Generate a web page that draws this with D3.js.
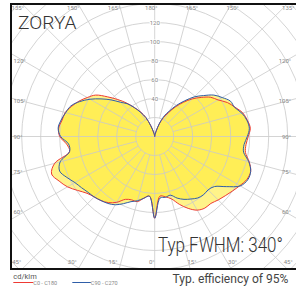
<!DOCTYPE html>
<html><head><meta charset="utf-8">
<script src="https://cdn.jsdelivr.net/npm/d3@7/dist/d3.min.js"></script>
<style>body{margin:0;background:#fff}svg{display:block}</style>
</head><body>
<svg id="chart" width="296" height="289"></svg>
<script>
// ---- data (cd/klm), gamma angle measured from nadir (0°) to zenith (180°), 5° steps
const gammaAngles = d3.range(0, 181, 5);
const c0Values   = [86,63,64.5,68,76,83.5,89.5,92,92,94.5,97,100,103.5,107,107.5,103,97,96.5,98.5,101,99,96,90,84.5,77,72,64,56,47,38,29,22,14,6,2,1,0];
const c180Values = [86,63,66,71,71,73,80,85,88,90,93,99,106,111,115.5,109,91,93,100,101.5,99,97.5,93,88,82,76,65,55,46,37,30,22,12,5,2,1,0];
const c90Values  = [86,65,65,64,69,73,76,79,80,79.5,82,92,104,108,107.5,102.5,95,94.5,97.5,100,98.5,95,89.5,88,82,76,67,59,49,40,31,24,15,6,2,1,0];
const c270Values = [86,63,66,70,73,78,83,86,88,90,91.5,94,97,102,106.5,103,91,91,99,102,100,97,94,87,78.5,69,60,51,45,37,29,22,12,5,2,1,0];
const ringValues = d3.range(20, 241, 20);
const ringLabels = [40, 60, 80, 100, 120];
const spokeAngles = d3.range(0, 360, 15);
const topLabels = [-135, -150, -165, 180, 165, 150, 135];
const sideLabels = [-120, -105, -90, -75, -60, 120, 105, 90, 75, 60];
const bottomLabels = [-45, -30, -15, 0, 15, 30, 45];
const seriesNames = ["C0 - C180", "C90 - C270"];
const seriesColors = ["#ee3a34", "#2f5ea8"];
const titleText = "ZORYA";
const fwhmText = "Typ.FWHM: 340°";
const effText = "Typ. efficiency of 95%";
const unitText = "cd/klm";

// ---- layout
const W = 296, H = 289;
const cx = 154.7, cy = 136.5;
const frame = {x: 11, y: 4, w: 300, h: 265};
const r = d3.scaleLinear().domain([0, 20]).range([0, 19]);
const font = "Roboto, 'Open Sans', sans-serif";

const svg = d3.select("#chart");
svg.append("rect").attr("width", W).attr("height", H).attr("fill", "#fff");
const defs = svg.append("defs");
defs.append("clipPath").attr("id", "clip").append("rect")
  .attr("x", frame.x + 1).attr("y", frame.y + 1).attr("width", frame.w).attr("height", frame.h - 2);

const plot = svg.append("g").attr("clip-path", "url(#clip)");
const g = plot.append("g").attr("transform", `translate(${cx},${cy})`);

// build closed radial loop: right half (a = pi - gamma) then left half (a = pi + gamma)
function loop(rightVals, leftVals) {
  const pts = [];
  for (let i = gammaAngles.length - 1; i >= 0; i--) pts.push([Math.PI - gammaAngles[i] * Math.PI / 180, rightVals[i]]);
  for (let i = 1; i < gammaAngles.length - 1; i++) pts.push([Math.PI + gammaAngles[i] * Math.PI / 180, leftVals[i]]);
  return pts;
}
const line = d3.lineRadial().angle(d => d[0]).radius(d => r(d[1])).curve(d3.curveCatmullRomClosed.alpha(0.5));
const series = [loop(c0Values, c180Values), loop(c90Values, c270Values)];

// fills
g.selectAll("path.fill").data(series).join("path").attr("class", "fill")
  .attr("d", line).attr("fill", "#ffea30").attr("fill-opacity", 0.57).attr("stroke", "none");

// grid
const grid = g.append("g").attr("stroke", "#c9c9c9").attr("stroke-width", 0.8).attr("fill", "none");
grid.selectAll("circle").data(ringValues).join("circle").attr("r", d => r(d));
grid.selectAll("line").data(spokeAngles).join("line")
  .each(function(d) {
    const a = d * Math.PI / 180;
    const r0 = (d % 90 === 0) ? 0 : r(20);
    const r1 = r(260);
    d3.select(this).attr("x1", r0 * Math.sin(a)).attr("y1", r0 * Math.cos(a))
      .attr("x2", r1 * Math.sin(a)).attr("y2", r1 * Math.cos(a));
  });

// curves
g.selectAll("path.curve").data(series).join("path").attr("class", "curve")
  .attr("d", line).attr("fill", "none")
  .attr("stroke", (d, i) => seriesColors[i]).attr("stroke-width", 1);

// ring labels
g.selectAll("text.ring").data(ringLabels).join("text").attr("class", "ring")
  .attr("x", 0).attr("y", d => -r(d)).attr("dy", "0.35em")
  .attr("text-anchor", "middle").attr("font-family", font).attr("font-size", 6)
  .attr("fill", "#888").attr("stroke", "#fff").attr("stroke-width", 1.5).attr("paint-order", "stroke")
  .text(d => d);

// angle labels on frame
const lab = svg.append("g").attr("font-family", font).attr("font-size", 6).attr("fill", "#888");
const topY = frame.y + 1, botY = frame.y + frame.h - 1;
lab.selectAll("text.top").data(topLabels).join("text").attr("class", "top")
  .attr("x", d => {
    const t = Math.abs(d) * Math.PI / 180, s = d < 0 ? -1 : 1;
    const xi = cx + s * (cy - topY) * Math.tan(Math.PI - t);
    return xi + (d === 180 ? -3.5 : d < 0 ? -5.5 : 2);
  })
  .attr("y", 8).attr("dy", "0.35em").attr("text-anchor", "middle").text(d => Math.abs(d) + "°");
lab.selectAll("text.bot").data(bottomLabels).join("text").attr("class", "bot")
  .attr("x", d => {
    const t = Math.abs(d) * Math.PI / 180, s = d < 0 ? -1 : 1;
    const xi = cx + s * (botY - cy) * Math.tan(t);
    return xi + (d === 0 ? -3 : d < 0 ? -6.5 : 2);
  })
  .attr("y", 262).attr("dy", "0.35em").attr("text-anchor", "middle").text(d => Math.abs(d) + "°");
lab.selectAll("text.side").data(sideLabels).join("text").attr("class", "side")
  .attr("x", d => d < 0 ? 13.5 : 291)
  .attr("text-anchor", d => d < 0 ? "start" : "end")
  .attr("y", d => {
    const t = Math.abs(d) * Math.PI / 180;
    return cy + 0.92 * (cx - frame.x - 1) * Math.cos(t) / Math.sin(t);
  })
  .attr("dy", "0.35em").text(d => Math.abs(d) + "°");

// frame
svg.append("rect").attr("x", frame.x).attr("y", frame.y).attr("width", frame.w).attr("height", frame.h)
  .attr("fill", "none").attr("stroke", "#111").attr("stroke-width", 2);

// texts squeezed horizontally to the narrow look of the original face
function fitText(x, y, size, weight, color, targetW, str) {
  const t = svg.append("text").attr("font-family", font).attr("font-weight", weight)
    .attr("font-size", size).attr("fill", color).text(str);
  const w = t.node().getComputedTextLength();
  const k = w > 0 ? targetW / w : 1;
  t.attr("transform", `translate(${x},${y}) scale(${k},1)`);
  return t;
}
fitText(18, 28.5, 18.5, 300, "#333", 58.5, titleText);
fitText(158, 251.8, 20.5, 300, "#333", 125, fwhmText);
fitText(172.5, 283, 13, 400, "#444", 116, effText);

// legend
svg.append("text").attr("x", 13.3).attr("y", 279).attr("font-family", font).attr("font-size", 7.5)
  .attr("fill", "#555").text(unitText);
const leg = svg.append("g").attr("font-family", font).attr("font-size", 5.5).attr("fill", "#888");
const legX = [13.3, 72.3];
seriesNames.forEach((n, i) => {
  leg.append("line").attr("x1", legX[i]).attr("x2", legX[i] + (i ? 18.5 : 20)).attr("y1", 282.5).attr("y2", 282.5)
    .attr("stroke", seriesColors[i]).attr("stroke-width", 1);
  leg.append("text").attr("x", legX[i] + (i ? 18.5 : 20)).attr("y", 285.3).text(n);
});
</script>
</body></html>
